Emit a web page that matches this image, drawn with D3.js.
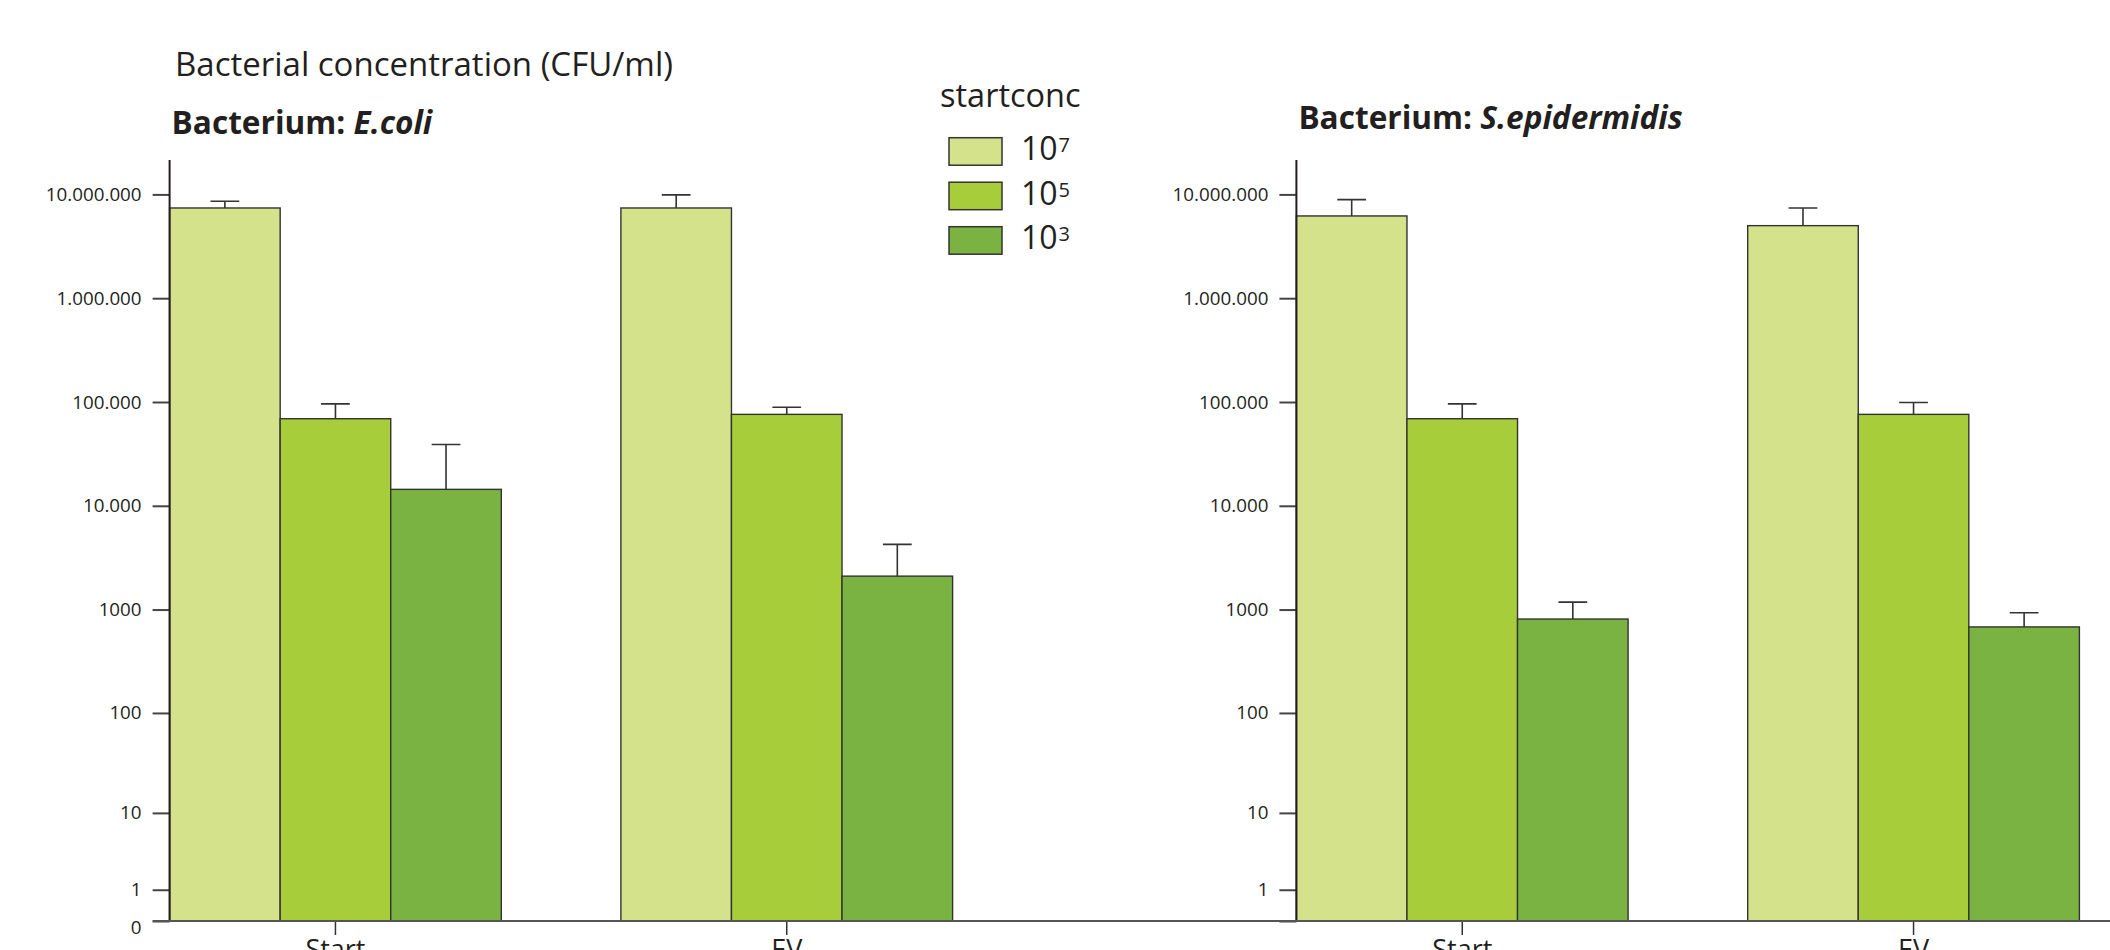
<!DOCTYPE html>
<html>
<head>
<meta charset="utf-8">
<script src="https://cdn.jsdelivr.net/npm/d3@7"></script>
<style>
  body { margin: 0; background: #fff; }
  text { font-family: "Open Sans", sans-serif; fill: #231f20; }
</style>
</head>
<body>
<svg id="chart" width="2110" height="950"></svg>
<script>
//// DATA

const categories = ["Start", "EV"]
// start concentration is 10^x, these are the exponents
const startconc = ["7", "5", "3"]
const colors = ["#d3e28b", "#a7ce3a", "#7bb342"]

// mean and upper error value, [category][startconc]
const ecoliMean  = [[7.4e6, 6.9e4, 1.44e4], [7.4e6, 7.6e4, 2100]]
const ecoliUpper = [[8.6e6, 9.6e4, 3.9e4],  [9.9e6, 8.9e4, 4250]]
const sepiMean   = [[6.2e6, 6.9e4, 810],    [5.0e6, 7.6e4, 680]]
const sepiUpper  = [[8.9e6, 9.6e4, 1180],   [7.4e6, 9.9e4, 930]]

const tickValues = [0, 1, 10, 100, 1000, 1e4, 1e5, 1e6, 1e7]
const tickLabels = ["0", "1", "10", "100", "1000", "10.000", "100.000", "1.000.000", "10.000.000"]

//// LAYOUT

const svg = d3.select("#chart")
const ink = "#231f20"
const base = 921

// the right panel has no "0" label
const panels = [
  {name: "E.coli", mean: ecoliMean, upper: ecoliUpper, left: 169.6, titleY: 134.3, zeroLabel: true},
  {name: "S.epidermidis", mean: sepiMean, upper: sepiUpper, left: 1296.4, titleY: 129.3, zeroLabel: false},
]

// log axis that still has a place for 0
const y = d3.scaleSymlog().constant(1)
  .domain([0, 1e7])
  .range([base, 194.4])

svg.append("text")
  .attr("x", 175)
  .attr("y", 76)
  .style("font-size", "33px")
  .text("Bacterial concentration (CFU/ml)")

function drawPanel(p) {
  const g = svg.append("g")

  const x = d3.scaleBand()
    .domain(categories)
    .range([p.left, p.left + 783])
    .paddingInner(0.265)
    .paddingOuter(0)

  const xSub = d3.scaleBand()
    .domain(d3.range(startconc.length))
    .range([0, x.bandwidth()])

  // header
  const title = g.append("text")
    .attr("x", p.left + 2)
    .attr("y", p.titleY)
    .style("font-size", "31.6px")
    .style("font-weight", "bold")
  title.append("tspan").text("Bacterium: ")
  title.append("tspan").style("font-style", "italic").text(p.name)

  const groups = g.selectAll(".group")
    .data(categories)
    .join("g")
    .attr("class", "group")
    .attr("transform", c => `translate(${x(c)},0)`)

  const cells = (c, i) => startconc.map((_, k) => ({k, mean: p.mean[i][k], upper: p.upper[i][k]}))

  // bars
  groups.selectAll("rect")
    .data(cells)
    .join("rect")
    .attr("x", d => xSub(d.k))
    .attr("y", d => y(d.mean))
    .attr("width", xSub.bandwidth())
    .attr("height", d => y(0) - y(d.mean))
    .attr("fill", d => colors[d.k])
    .attr("stroke", "#333")
    .attr("stroke-width", 1.4)

  // upper error bars with a cap
  const capW = xSub.bandwidth() * 0.26
  groups.selectAll(".err")
    .data(cells)
    .join("path")
    .attr("class", "err")
    .attr("d", d => {
      const cx = xSub(d.k) + xSub.bandwidth() / 2
      return `M${cx},${y(d.mean)}V${y(d.upper)}M${cx - capW / 2},${y(d.upper)}H${cx + capW / 2}`
    })
    .attr("fill", "none")
    .attr("stroke", "#333")
    .attr("stroke-width", 1.6)

  // y axis
  const ax = g.append("g")
    .attr("transform", `translate(${p.left},0)`)
    .call(d3.axisLeft(y)
      .tickValues(tickValues)
      .tickFormat((d, i) => tickLabels[i])
      .tickSize(17)
      .tickPadding(11))
  ax.select(".domain").remove()
  ax.selectAll(".tick line").attr("stroke", "#444").attr("stroke-width", 2)
  ax.selectAll(".tick text")
    .attr("fill", ink)
    .style("font-family", '"Open Sans", sans-serif')
    .style("font-size", "18.8px")
  // the 0 label sits a bit below the baseline
  const zero = ax.selectAll(".tick text").filter(d => d === 0)
  if (p.zeroLabel) zero.attr("dy", "0.64em")
  else zero.remove()

  g.append("line")
    .attr("x1", p.left).attr("x2", p.left)
    .attr("y1", 160).attr("y2", base)
    .attr("stroke", ink)
    .attr("stroke-width", 2)

  // category ticks and labels
  const cx = c => x(c) + x.bandwidth() / 2
  g.selectAll(".cat-tick")
    .data(categories)
    .join("line")
    .attr("class", "cat-tick")
    .attr("x1", cx).attr("x2", cx)
    .attr("y1", base).attr("y2", base + 14)
    .attr("stroke", "#333")
    .attr("stroke-width", 1.5)

  g.selectAll(".cat-label")
    .data(categories)
    .join("text")
    .attr("class", "cat-label")
    .attr("x", cx)
    .attr("y", base + 38)
    .attr("text-anchor", "middle")
    .style("font-size", "27px")
    .text(c => c)
}

panels.forEach(drawPanel)

// baseline runs across both panels
svg.append("line")
  .attr("x1", 152.7).attr("x2", 2110)
  .attr("y1", base).attr("y2", base)
  .attr("stroke", "#555")
  .attr("stroke-width", 2)

//// LEGEND

const legend = svg.append("g")
legend.append("text")
  .attr("x", 940)
  .attr("y", 106.7)
  .style("font-size", "32.5px")
  .text("startconc")

const items = legend.selectAll(".item")
  .data(startconc)
  .join("g")
  .attr("class", "item")
  .attr("transform", (d, i) => `translate(949,${137.7 + i * 44.5})`)

items.append("rect")
  .attr("width", 53)
  .attr("height", 27.5)
  .attr("fill", (d, i) => colors[i])
  .attr("stroke", "#333")
  .attr("stroke-width", 1.5)

const lbl = items.append("text")
  .attr("x", 72)
  .attr("y", 22.5)
  .style("font-size", "32px")
lbl.append("tspan").text("10")
lbl.append("tspan")
  .attr("dy", -8)
  .attr("dx", 1)
  .style("font-size", "20px")
  .text(d => d)
</script>
</body>
</html>
